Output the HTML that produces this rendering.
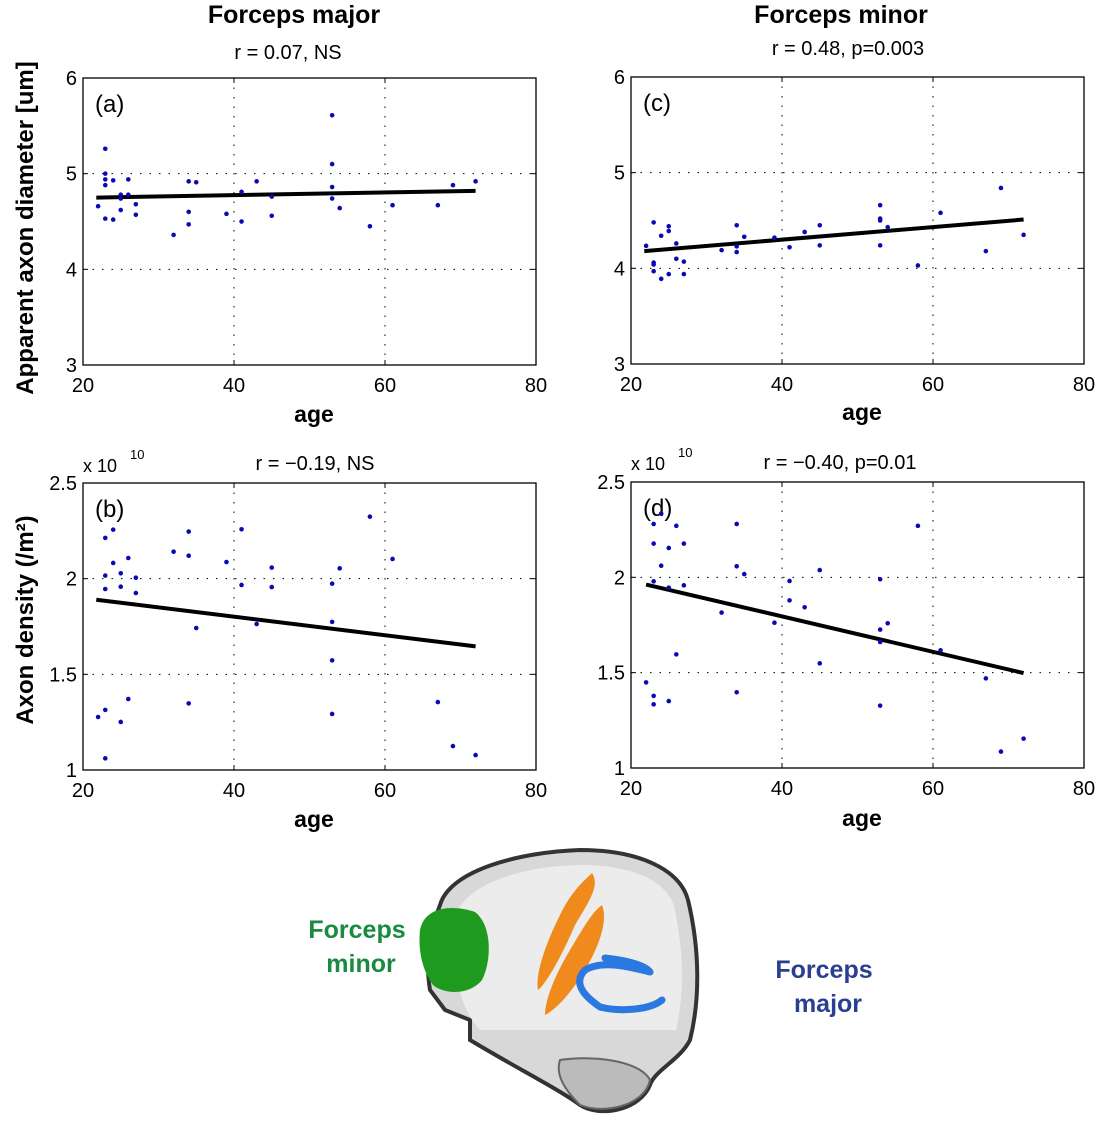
<!DOCTYPE html>
<html><head><meta charset="utf-8"><style>
body{margin:0;background:#fff;}
svg{display:block;font-family:"Liberation Sans",Arial,sans-serif;}
</style></head><body>
<svg id="fig" width="1099" height="1131" viewBox="0 0 1099 1131">
<g id="charts"></g>
<g>
 <path d="M440,905 C450,870 520,852 580,850 C640,850 680,870 688,900 C700,950 700,1000 690,1040 C680,1060 655,1070 650,1085 C640,1110 600,1118 580,1105 C560,1090 520,1070 470,1040 L470,1020 L445,1010 L430,990 C425,960 430,930 440,905 Z" fill="#d8d8d8" stroke="#333" stroke-width="4"/>
 <path d="M455,915 C470,880 530,865 585,865 C640,866 670,885 675,910 C685,960 683,1000 676,1030 L480,1030 C460,1010 448,960 455,915 Z" fill="#ececec"/>
 <path d="M560,1060 C590,1055 640,1060 650,1080 C645,1105 605,1115 580,1105 C565,1090 555,1075 560,1060 Z" fill="#bbb" stroke="#666" stroke-width="2"/>
 <path d="M420,930 C425,905 455,905 475,912 C492,925 492,960 482,980 C470,995 445,995 433,985 C422,970 418,950 420,930 Z" fill="#1e9a1e"/>
 <path d="M592,873 C600,885 590,900 575,925 C560,960 545,985 538,990 C535,975 545,945 560,915 C572,890 585,880 592,873 Z" fill="#f08a1c"/>
 <path d="M602,905 C608,920 600,945 585,970 C570,995 555,1010 545,1015 C545,1000 555,975 570,950 C582,930 592,912 602,905 Z" fill="#f08a1c"/>
 <path d="M605,958 C625,960 645,965 650,972 M650,972 C640,970 605,958 585,970 C570,985 590,1000 600,1007 C620,1012 650,1010 662,1000" fill="none" stroke="#2a78e0" stroke-width="7" stroke-linecap="round"/>
</g>
<text x="357" y="938" text-anchor="middle" font-size="25" font-weight="bold" fill="#1a8a40">Forceps</text>
<text x="361" y="972" text-anchor="middle" font-size="25" font-weight="bold" fill="#1a8a40">minor</text>
<text x="824" y="978" text-anchor="middle" font-size="25" font-weight="bold" fill="#2a3f8f">Forceps</text>
<text x="828" y="1012" text-anchor="middle" font-size="25" font-weight="bold" fill="#2a3f8f">major</text>
</svg>
<script>
const agesA=[22.95,22.95,22.95,22.95,24,26,34,35,43,41,45,53,53,53,53,54,69,72,25,25,26,22,27,27,25,22.95,24,34,34,32,39,41,45,58,61,67];
const valsA=[5.26,5.0,4.94,4.88,4.93,4.94,4.92,4.91,4.92,4.81,4.76,5.61,5.10,4.86,4.74,4.64,4.88,4.92,4.78,4.74,4.78,4.66,4.68,4.57,4.62,4.53,4.52,4.6,4.47,4.36,4.58,4.5,4.56,4.45,4.67,4.67];
const fitA=[21.76,4.75,72,4.82];
const agesB=[22.95,24,34,41,58,32,34,26,24,39,61,45,54,22.95,25,27,41,45,53,22.95,25,27,35,43,53,53,26,22.95,22,25,34,53,67,69,72,22.95];
const valsB=[2.213,2.256,2.246,2.258,2.324,2.141,2.12,2.108,2.082,2.087,2.103,2.058,2.054,2.016,2.028,2.005,1.967,1.956,1.974,1.946,1.958,1.925,1.742,1.763,1.774,1.573,1.371,1.314,1.277,1.251,1.348,1.293,1.355,1.125,1.078,1.061];
const fitB=[21.76,1.890,72,1.646];
const agesC=[22,23,24,25,25,26,23,23,26,27,23,25,24,27,32,34,34,34,35,39,41,43,45,45,53,53,53,54,53,58,61,67,69,72];
const valsC=[4.235,4.48,4.34,4.44,4.39,4.26,4.06,4.04,4.10,4.07,3.97,3.94,3.89,3.94,4.19,4.45,4.23,4.17,4.33,4.32,4.22,4.38,4.45,4.24,4.66,4.52,4.50,4.43,4.24,4.03,4.58,4.18,4.84,4.35];
const fitC=[21.76,4.18,72,4.51];
const agesD=[24,23,26,34,58,23,25,27,24,34,35,45,23,25,27,41,53,41,43,32,39,54,53,53,61,26,45,67,22,23,25,23,34,53,72,69];
const valsD=[2.334,2.28,2.27,2.28,2.27,2.177,2.154,2.177,2.061,2.058,2.017,2.038,1.979,1.946,1.958,1.981,1.99,1.879,1.843,1.815,1.762,1.759,1.726,1.661,1.617,1.596,1.549,1.47,1.449,1.378,1.351,1.334,1.397,1.327,1.154,1.086];
const fitD=[22,1.962,72,1.498];
const xTicks=[20,40,60,80];
const yTicksTop=[3,4,5,6];
const yTicksBot=[1,1.5,2,2.5];

const NS="http://www.w3.org/2000/svg";
const root=document.getElementById('charts');
function mk(tag,attrs,parent){const e=document.createElementNS(NS,tag);for(const k in attrs)e.setAttribute(k,attrs[k]);(parent||root).appendChild(e);return e;}

function panel(id,L,T,R,B,ymin,ymax,yticks,ages,vals,fit,letter){
 const g=mk('g',{});
 
 
 const sx=a=>L+(a-20)/60*(R-L);
 const sy=v=>B-(v-ymin)/(ymax-ymin)*(B-T);
 mk('rect',{x:L,y:T,width:R-L,height:B-T,fill:'#fff',stroke:'none'},g);
 xTicks.forEach(t=>{
  const x=sx(t);
  if(t>20&&t<80){const gl=mk('line',{x1:x,y1:T,x2:x,y2:B,stroke:'#000','stroke-width':1,'stroke-dasharray':'1.5,8'},g);
   }
  const tk=mk('text',{x:x,y:B+27,'text-anchor':'middle','font-size':20,fill:'#000'},g);
  tk.textContent=t;
  
  
  mk('line',{x1:x,y1:B,x2:x,y2:B-5,stroke:'#000'},g);
  mk('line',{x1:x,y1:T,x2:x,y2:T+5,stroke:'#000'},g);
 });
 yticks.forEach(t=>{
  const y=sy(t);
  if(t>ymin&&t<ymax){const gl=mk('line',{x1:L,y1:y,x2:R,y2:y,stroke:'#000','stroke-width':1,'stroke-dasharray':'1.5,8'},g);
   }
  const tk=mk('text',{x:L-6,y:y+7,'text-anchor':'end','font-size':20,fill:'#000'},g);
  tk.textContent=t;
  
  
  mk('line',{x1:L,y1:y,x2:L+5,y2:y,stroke:'#000'},g);
  mk('line',{x1:R,y1:y,x2:R-5,y2:y,stroke:'#000'},g);
 });
 const box=mk('rect',{x:L,y:T,width:R-L,height:B-T,fill:'none',stroke:'#000','stroke-width':1.3},g);
 
 
 const lt=mk('text',{x:L+12,y:T+34,'font-size':24,fill:'#000'},g);
 lt.textContent='('+letter+')';
 
 
 const fl=mk('line',{x1:sx(fit[0]),y1:sy(fit[1]),x2:sx(fit[2]),y2:sy(fit[3]),stroke:'#000','stroke-width':4},g);
 
 
 ages.forEach((a,i)=>{
  const c=mk('circle',{cx:sx(a),cy:sy(vals[i]),r:2.3,fill:'#0a0ab4'},g);
  
  
 });
}
panel('a',83,78,536,365,3,6,yTicksTop,agesA,valsA,fitA,'a');
panel('c',631,77,1084,364,3,6,yTicksTop,agesC,valsC,fitC,'c');
panel('b',83,483,536,770,1,2.5,yTicksBot,agesB,valsB,fitB,'b');
panel('d',631,482,1084,768,1,2.5,yTicksBot,agesD,valsD,fitD,'d');

function txt(s,x,y,size,bold,name,anchor,rot){
 const t=mk('text',{x:x,y:y,'font-size':size,'text-anchor':anchor||'middle',fill:'#000'});
 if(bold)t.setAttribute('font-weight','bold');
 if(rot)t.setAttribute('transform','rotate(-90 '+x+' '+y+')');
 t.textContent=s;
 
 
 return t;
}
txt('Forceps major',294,23,25,true,'title-forceps-major');
txt('r  = 0.07, NS',288,59,20,false,'stat-a');
txt('Forceps minor',841,23,25,true,'title-forceps-minor');
txt('r  = 0.48, p=0.003',848,55,20,false,'stat-c');
txt('age',314,422,23,true,'x-axis-title-a');
txt('age',862,420,23,true,'x-axis-title-c');
txt('age',314,827,23,true,'x-axis-title-b');
txt('age',862,826,23,true,'x-axis-title-d');
txt('r = \u22120.19, NS',315,470,20,false,'stat-b');
txt('r = \u22120.40, p=0.01',840,469,20,false,'stat-d');
txt('Apparent axon diameter [um]',33,228,24,true,'y-axis-title-top','middle',true);
txt('Axon density (/m\u00b2)',33,620,24,true,'y-axis-title-bottom','middle',true);
const e1=txt('x 10',83,472,18,false,'exponent-b','start');
const e1s=txt('10',130,459,13,false,'exponent-b-power','start');
const e2=txt('x 10',631,470,18,false,'exponent-d','start');
const e2s=txt('10',678,457,13,false,'exponent-d-power','start');
</script>
</body></html>
